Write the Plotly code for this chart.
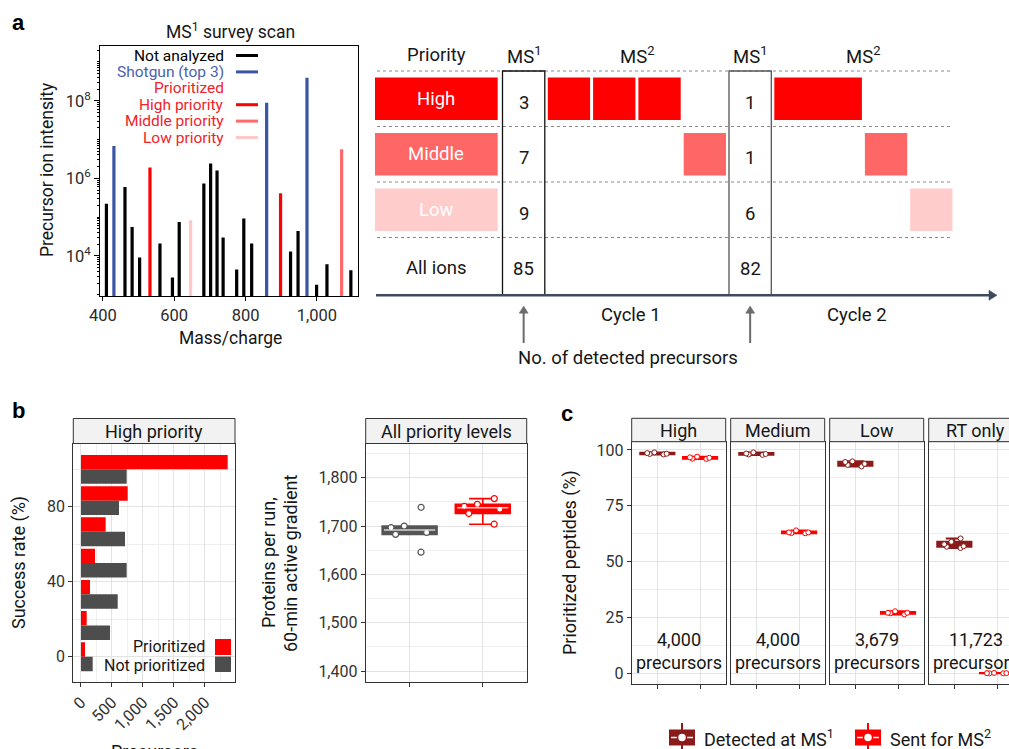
import numpy as np
import plotly.graph_objects as go

W, H = 1009, 749
FONT = "Roboto"
INK = "#161616"

# ---------------- panel a: MS1 survey scan ----------------
mz = [410, 431, 462, 482, 503, 532, 560, 595, 614, 646, 683, 702, 720,
      737, 775, 795, 817, 859, 898, 926, 947, 972, 999, 1028, 1069, 1095]
intensity = [2.2e5, 6.8e6, 6.0e5, 5.6e4, 9.1e3, 1.9e6, 2.1e4, 2.8e3, 7.5e4,
             8.3e4, 7.4e5, 2.4e6, 1.6e6, 3.0e4, 4.5e3, 9.2e4, 2.1e4, 8.9e7,
             4.1e5, 1.3e4, 4.4e4, 3.9e8, 1.8e3, 6.1e3, 5.6e6, 4.3e3]
ion_class = ["not", "shotgun", "not", "not", "not", "high", "not", "not",
             "not", "low", "not", "not", "not", "not", "not", "not", "not",
             "shotgun", "high", "not", "not", "shotgun", "not", "not",
             "middle", "not"]
class_colors = {"not": "#000000", "shotgun": "#3A55A4", "high": "#FF0000",
                "middle": "#FF6B6B", "low": "#FFC8C8"}
survey_legend = [("Not analyzed", "#000000", "not"),
                 ("Shotgun (top 3)", "#4A62AE", "shotgun"),
                 ("Prioritized", "#F0232B", None),
                 ("High priority", "#F0232B", "high"),
                 ("Middle priority", "#F0232B", "middle"),
                 ("Low priority", "#F0232B", "low")]

# ---------------- panel a: acquisition scheme ----------------
priority_levels = ["High", "Middle", "Low"]
priority_colors = ["#FF0000", "#FF6666", "#FFCCCC"]
row_labels = priority_levels + ["All ions"]
ms1_counts = [[3, 7, 9, 85], [1, 1, 6, 82]]
ms2_scans = [[("High", 1), ("High", 1), ("High", 1), ("Middle", 1)],
             [("High", 2), ("Middle", 1), ("Low", 1)]]
cycle_names = ["Cycle 1", "Cycle 2"]

# ---------------- panel b ----------------
success_bins = [0, 16.7, 33.3, 50, 66.7, 83.3, 100]
prioritized_counts = [65, 92, 145, 226, 398, 753, 2366]
not_prioritized_counts = [189, 468, 592, 737, 710, 613, 737]
proteins_not_prioritized = [1646, 1683, 1687, 1697, 1700, 1739]
proteins_prioritized = [1704, 1726, 1735, 1741, 1745, 1757]

# ---------------- panel c ----------------
c_levels = ["High", "Medium", "Low", "RT only"]
c_precursors = [4000, 4000, 3679, 11723]
detected_ms1 = [[98.3, 98.9, 98.0, 98.2, 98.6],
                [98.2, 98.9, 97.8, 98.0, 98.4],
                [93.8, 94.9, 92.6, 94.6, 93.3],
                [56.7, 60.4, 58.9, 56.1, 56.9, 57.8]]
sent_ms2 = [[96.1, 96.7, 96.0, 97.0, 96.5],
            [63.1, 62.7, 64.0, 63.1, 62.8],
            [27.8, 27.1, 26.4, 27.1, 26.9],
            [0.1, 0.0, 0.2, 0.1, 0.0]]
DETECTED_COL = "#8B1A1A"
SENT_COL = "#FF0000"


def fx(px):
    return px / W


def fy(py):
    return 1 - py / H


fig = go.Figure()
shapes, annotations = [], []


def text(x, y, s, size=18, color=INK, **kw):
    d = dict(x=x, y=y, xref="x8", yref="y8", text=s, showarrow=False,
             font=dict(family=FONT, size=size, color=color))
    d.update(kw)
    annotations.append(d)


def rect(x0, y0, x1, y1, fill=None, line=None, lw=0, ref=("x8", "y8")):
    shapes.append(dict(type="rect", xref=ref[0], yref=ref[1], x0=x0, y0=y0,
                       x1=x1, y1=y1, fillcolor=fill or "rgba(0,0,0,0)",
                       line=dict(color=line or "rgba(0,0,0,0)", width=lw),
                       layer="above"))


def seg(x0, y0, x1, y1, color, lw=1, dash="solid", ref=("x8", "y8")):
    shapes.append(dict(type="line", xref=ref[0], yref=ref[1], x0=x0, y0=y0,
                       x1=x1, y1=y1, line=dict(color=color, width=lw, dash=dash),
                       layer="above"))


def arrow(x0, y0, x1, y1, color, lw=2, head=5.5):
    """Straight arrow from (x0, y0) to (x1, y1) with a filled triangular head."""
    dx, dy = x1 - x0, y1 - y0
    n = (dx * dx + dy * dy) ** 0.5
    ux, uy = dx / n, dy / n
    bx, by = x1 - ux * head * 1.6, y1 - uy * head * 1.6
    seg(x0, y0, bx + ux, by + uy, color, lw)
    px, py = -uy * head, ux * head
    shapes.append(dict(type="path", xref="x8", yref="y8",
                       path=f"M {x1},{y1} L {bx + px},{by + py} L {bx - px},{by - py} Z",
                       fillcolor=color, line=dict(color=color, width=0.5),
                       layer="above"))


tick_font = dict(family=FONT, size=16.5, color="#2a2a2a")
small_tick_font = dict(family=FONT, size=16, color="#333333")

# ================= panel a: survey scan bars =================
fig.add_trace(go.Bar(x=mz, y=intensity, width=9,
                     marker=dict(color=[class_colors[c] for c in ion_class],
                                 line=dict(width=0)),
                     xaxis="x", yaxis="y", showlegend=False, hoverinfo="skip"))

layout_axes = {}
layout_axes["xaxis"] = dict(domain=[fx(100), fx(358)], range=[392, 1115],
                            anchor="y", showline=True, mirror=True,
                            linecolor="black", linewidth=1, ticks="outside",
                            ticklen=4, tickcolor="black",
                            tickvals=[400, 600, 800, 1000],
                            ticktext=["400", "600", "800", "1,000"],
                            showgrid=False, zeroline=False, tickfont=tick_font)
layout_axes["yaxis"] = dict(domain=[fy(296), fy(46)], type="log",
                            range=[2.968, 9.41], anchor="x", showline=True,
                            mirror=True, linecolor="black", linewidth=1,
                            ticks="outside", ticklen=5, tickcolor="black",
                            tickvals=[1e4, 1e6, 1e8],
                            ticktext=["10<sup>4</sup>", "10<sup>6</sup>",
                                      "10<sup>8</sup>"],
                            minor=dict(ticks="outside", ticklen=2.5,
                                       tickcolor="black", dtick="D1"),
                            showgrid=False, zeroline=False, tickfont=tick_font)

text(230, 31, "MS<sup>1</sup> survey scan", 17.5)
text(47, 170, "Precursor ion intensity", 17.5, textangle=-90)
text(230, 338, "Mass/charge", 17.5)

for i, (lab, tcol, key) in enumerate(survey_legend):
    y = 55.5 + i * 16.4
    text(225, y, lab, 15.5, tcol, xanchor="right", borderpad=0)
    if key is not None:
        seg(236, y, 258, y, class_colors[key], lw=3)

# ================= panel a: acquisition scheme =================
row_top, row_pitch = 71.0, 55.5
t0, pitch, gap = 502.5, 45.3, 3.0
axis_y = 295.3
n_rows = len(row_labels)
SCHEME_FS = 18.5

text(436, 55, "Priority", SCHEME_FS)
for r in range(n_rows):
    seg(377, row_top + r * row_pitch, 953, row_top + r * row_pitch,
        "#8a8a8a", lw=1, dash="dot")
    yc = row_top + r * row_pitch + row_pitch / 2
    if r < len(priority_levels):
        rect(375, row_top + r * row_pitch + 6.5, 497.7,
             row_top + r * row_pitch + 49, fill=priority_colors[r])
        text(436, yc, row_labels[r], SCHEME_FS, "white")
    else:
        text(436, yc + 3, row_labels[r], SCHEME_FS, INK)

cur = t0
for c, (counts, scans) in enumerate(zip(ms1_counts, ms2_scans)):
    col_x0, col_x1 = cur, cur + pitch - gap
    colc = (col_x0 + col_x1) / 2
    rect(col_x0, row_top, col_x1, axis_y, line="#111111" if c == 0 else "#555555", lw=1.3)
    text(colc, 55, "MS<sup>1</sup>", SCHEME_FS)
    for r, n in enumerate(counts):
        text(colc, row_top + r * row_pitch + row_pitch / 2 + 4, str(n), SCHEME_FS, INK)
    arrow(colc, 343, colc, 306, "#6b6b6b", lw=2, head=4.5)
    cur += pitch
    span0 = cur
    for lvl, dur in scans:
        r = priority_levels.index(lvl)
        rect(cur, row_top + r * row_pitch + 6.5, cur + dur * pitch - gap,
             row_top + r * row_pitch + 49, fill=priority_colors[r])
        cur += dur * pitch
    span1 = cur - gap
    text((span0 + span1) / 2, 55, "MS<sup>2</sup>", SCHEME_FS)
    text((span0 + span1) / 2 - 6, 315, cycle_names[c], SCHEME_FS)

# time axis
arrow(376, axis_y, 997, axis_y, "#3D4B5E", lw=2.5, head=5)
text(628, 358, "No. of detected precursors", SCHEME_FS)

# ================= panel b: success-rate bars =================
bar_h = 7.7
fig.add_trace(go.Bar(y=success_bins, x=prioritized_counts, orientation="h",
                     width=bar_h, offset=0, marker=dict(color="#FF0000", line=dict(width=0)),
                     xaxis="x2", yaxis="y2", showlegend=False, hoverinfo="skip"))
fig.add_trace(go.Bar(y=success_bins, x=not_prioritized_counts, orientation="h",
                     width=bar_h, offset=-bar_h, marker=dict(color="#4D4D4D", line=dict(width=0)),
                     xaxis="x2", yaxis="y2", showlegend=False, hoverinfo="skip"))

panel_line = dict(showline=True, mirror=True, linecolor="#333333", linewidth=1,
                  zeroline=False)
grid_major = dict(showgrid=True, gridcolor="#E3E3E3", gridwidth=1.2)

b_top, b_bot = 443.5, 681.7
layout_axes["xaxis2"] = dict(domain=[fx(73.3), fx(235)], range=[-124, 2484], anchor="y2",
                             tickvals=[0, 500, 1000, 1500, 2000],
                             ticktext=["0", "500", "1,000", "1,500", "2,000"],
                             tickangle=-45, ticks="outside", ticklen=4,
                             tickcolor="#333333", tickfont=small_tick_font,
                             minor=dict(showgrid=True, gridcolor="#EFEFEF",
                                        gridwidth=0.7, dtick=250, tick0=0),
                             **grid_major, **panel_line)
layout_axes["yaxis2"] = dict(domain=[fy(b_bot), fy(b_top)], range=[-13.3, 113.8], anchor="x2",
                             tickvals=[0, 40, 80], ticks="outside", ticklen=4,
                             tickcolor="#333333", tickfont=small_tick_font,
                             minor=dict(showgrid=True, gridcolor="#EFEFEF",
                                        gridwidth=0.7, dtick=20, tick0=0),
                             **grid_major, **panel_line)
rect(73.3, 418.5, 235, b_top, fill="#F2F2F2", line="#333333", lw=1)
text(154, 431, "High priority", 18)
text(19, 563, "Success rate (%)", 18, textangle=-90)
text(154, 739, "Precursors", 18, yanchor="top")
# legend keys
rect(215, 639, 231, 655, fill="#FF0000")
rect(215, 656.5, 231, 672, fill="#4D4D4D")
text(206, 646.5, "Prioritized", 16, xanchor="right", borderpad=0)
text(206, 665, "Not prioritized", 16, xanchor="right", borderpad=0)

# ================= panel b: proteins per run =================
for pos, vals, col in [(1, proteins_not_prioritized, "#555555"),
                       (2, proteins_prioritized, "#FF0000")]:
    fig.add_trace(go.Box(x=[pos] * len(vals), y=vals, width=0.75,
                         fillcolor=col, line=dict(color=col, width=1.6),
                         boxpoints="all", jitter=0.8, pointpos=0,
                         quartilemethod="exclusive",
                         marker=dict(color="white", size=6,
                                     line=dict(color=col, width=1.2)),
                         xaxis="x3", yaxis="y3", showlegend=False,
                         hoverinfo="skip"))
    med = float(np.median(vals))
    seg(pos - 0.35, med, pos + 0.35, med, "rgba(255,255,255,0.75)", lw=1.5,
        ref=("x3", "y3"))

layout_axes["xaxis3"] = dict(domain=[fx(365.7), fx(526.7)], range=[0.4, 2.6], anchor="y3",
                             tickvals=[1, 2], showticklabels=False, ticks="outside",
                             ticklen=4, tickcolor="#333333", **grid_major, **panel_line)
layout_axes["yaxis3"] = dict(domain=[fy(b_bot), fy(b_top)], range=[1378, 1871], anchor="x3",
                             tickvals=[1400, 1500, 1600, 1700, 1800],
                             tickformat=",", ticks="outside", ticklen=4,
                             tickcolor="#333333", tickfont=small_tick_font,
                             minor=dict(showgrid=True, gridcolor="#EFEFEF",
                                        gridwidth=0.7, dtick=50, tick0=1400),
                             **grid_major, **panel_line)
rect(365.7, 418.5, 526.7, b_top, fill="#F2F2F2", line="#333333", lw=1)
text(446.2, 431, "All priority levels", 18)
text(268, 563, "Proteins per run,", 18, textangle=-90)
text(290, 563, "60-min active gradient", 18, textangle=-90)

# ================= panel c: prioritized peptides =================
c_top, c_bot = 441.7, 684.3
c_left = [631.7, 730.7, 829.7, 928.7]
c_width = 94.0
for i, lvl in enumerate(c_levels):
    ax = 4 + i
    xa, ya = f"x{ax}", f"y{ax}"
    x0 = c_left[i]
    x1 = min(x0 + c_width, W)
    xr_hi = 0.4 + (x1 - x0) / c_width * 2.2
    for pos, vals, col in [(1, detected_ms1[i], DETECTED_COL), (2, sent_ms2[i], SENT_COL)]:
        fig.add_trace(go.Box(x=[pos] * len(vals), y=vals, width=0.8,
                             fillcolor=col, line=dict(color=col, width=2),
                             boxpoints="all", jitter=0.7, pointpos=0,
                             quartilemethod="exclusive",
                             marker=dict(color="white", size=5,
                                         line=dict(color=col, width=1)),
                             xaxis=xa, yaxis=ya, showlegend=False,
                             hoverinfo="skip"))
    clipped = x0 + c_width > W
    layout_axes[f"xaxis{ax}"] = dict(domain=[fx(x0), fx(x1)], range=[0.4, xr_hi],
                                     anchor=ya, tickvals=[1, 2], showticklabels=False,
                                     ticks="outside", ticklen=4, tickcolor="#333333",
                                     **grid_major, **panel_line)
    layout_axes[f"yaxis{ax}"] = dict(domain=[fy(c_bot), fy(c_top)], range=[-4.9, 103.7],
                                     anchor=xa, tickvals=[0, 25, 50, 75, 100],
                                     ticks="outside" if i == 0 else "",
                                     ticklen=4, tickcolor="#333333",
                                     showticklabels=(i == 0), tickfont=small_tick_font,
                                     minor=dict(showgrid=True, gridcolor="#EFEFEF",
                                                gridwidth=0.7, dtick=12.5, tick0=0),
                                     showgrid=True, gridcolor="#E3E3E3", gridwidth=1.2,
                                     showline=True, mirror=not clipped,
                                     linecolor="#333333", linewidth=1, zeroline=False)
    rect(x0, 418.3, x0 + c_width, c_top, fill="#F2F2F2", line="#333333", lw=1)
    text(x0 + c_width / 2, 430, lvl, 18)
    text(x0 + c_width / 2, 650.5, f"{c_precursors[i]:,}<br>precursors", 18)

text(570, 563, "Prioritized peptides (%)", 18, textangle=-90)

# legend for panel c
for x0, col, lab in [(669, DETECTED_COL, "Detected at MS<sup>1</sup>"),
                     (855, SENT_COL, "Sent for MS<sup>2</sup>")]:
    xc = x0 + 13
    seg(xc, 723, xc, 749, col, lw=2)
    rect(x0, 729.5, x0 + 26, 745.5, fill=col)
    seg(x0 + 2, 737.5, x0 + 24, 737.5, "white", lw=1.5)
    shapes.append(dict(type="circle", xref="x8", yref="y8", x0=xc - 4.5, x1=xc + 4.5,
                       y0=733, y1=742, fillcolor="white",
                       line=dict(color=col, width=1.5), layer="above"))
    text(x0 + 33, 737.5, lab, 18, xanchor="left")

# panel letters
for lab, x, y in [("a", 18, 22), ("b", 18, 410), ("c", 567, 413)]:
    text(x, y, f"<b>{lab}</b>", 22, "black", font=dict(family="Liberation Sans", size=22, color="black"))

# pixel-space overlay for annotation geometry
fig.add_trace(go.Scatter(x=[None], y=[None], xaxis="x8", yaxis="y8",
                         showlegend=False, hoverinfo="skip"))
layout_axes["xaxis8"] = dict(domain=[0, 1], range=[0, W], visible=False,
                             anchor="y8", fixedrange=True)
layout_axes["yaxis8"] = dict(domain=[0, 1], range=[H, 0], visible=False,
                             anchor="x8", fixedrange=True)

# keep every axis exactly where its domain puts it
for ax in layout_axes.values():
    ax["automargin"] = False

fig.update_layout(width=W, height=H, margin=dict(l=0, r=0, t=0, b=0, autoexpand=False),
                  paper_bgcolor="white", plot_bgcolor="rgba(0,0,0,0)",
                  barmode="overlay", showlegend=False,
                  font=dict(family=FONT, size=16, color=INK),
                  shapes=shapes, annotations=annotations, **layout_axes)

fig.write_html("out.html")
